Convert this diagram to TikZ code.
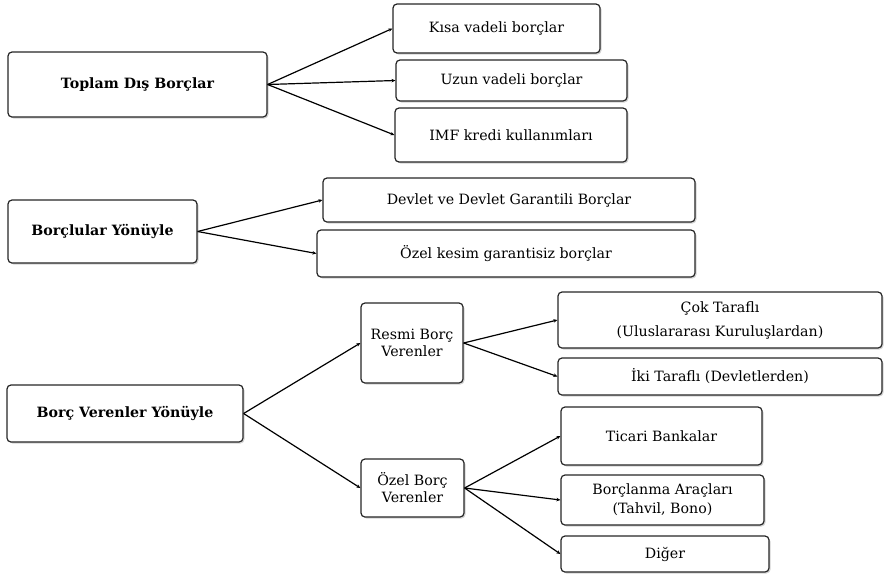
\documentclass[tikz,border=0pt]{standalone}
\usepackage{fontspec}
\setmainfont{DejaVu Serif}
\usetikzlibrary{shadows,arrows.meta}

\begin{document}
\begin{tikzpicture}[x=1pt,y=-1pt,
  kutu/.style={draw=black!85,line width=1.2pt,rounded corners=4pt,fill=white,
    drop shadow={shadow xshift=1.5pt,shadow yshift=-1.5pt,opacity=.35},
    font=\fontsize{14.2}{17}\selectfont,align=center,inner sep=2pt},
  ana/.style={kutu,font=\fontsize{14.2}{17}\selectfont\bfseries},
  bag/.style={line width=1.2pt,-{Stealth[length=4pt,width=3.5pt]}}]
\useasboundingbox (0,0) rectangle (885,576);
% toplam dis borclar
\node[ana,minimum width=259pt,minimum height=65pt] (toplam) at (137.5,84.5) {Toplam Dış Borçlar};
\node[kutu,minimum width=207pt,minimum height=49pt] (kisa) at (496.5,28.5) {Kısa vadeli borçlar};
\node[kutu,minimum width=231pt,minimum height=41pt] (uzun) at (511.5,80.5) {Uzun vadeli borçlar};
\node[kutu,minimum width=232pt,minimum height=54pt] (imf) at (511,135) {IMF kredi kullanımları};
\foreach \k in {kisa,uzun,imf} \draw[bag] (toplam.east) -- (\k.west);
% borclular yonuyle
\node[ana,minimum width=189pt,minimum height=63pt] (borclular) at (102.5,231.5) {Borçlular Yönüyle};
\node[kutu,minimum width=372pt,minimum height=44pt] (devlet) at (509,200) {Devlet ve Devlet Garantili Borçlar};
\node[kutu,minimum width=378pt,minimum height=47pt] (ozelkesim) at (506,253.5) {Özel kesim garantisiz borçlar};
\foreach \k in {devlet,ozelkesim} \draw[bag] (borclular.east) -- (\k.west);
% borc verenler yonuyle
\node[ana,minimum width=236pt,minimum height=57pt] (verenler) at (125,413.5) {Borç Verenler Yönüyle};
\node[kutu,minimum width=102pt,minimum height=80pt] (resmi) at (412,343) {Resmi Borç\\[0pt]Verenler};
\node[kutu,minimum width=103pt,minimum height=58pt] (ozelborc) at (412.5,488) {Özel Borç\\[0pt]Verenler};
\draw[bag] (verenler.east) -- (resmi.west);
\draw[bag] (verenler.east) -- (ozelborc.west);
\node[kutu,minimum width=324pt,minimum height=56pt] (cok) at (720,320) {Çok Taraflı\\[7pt](Uluslararası Kuruluşlardan)};
\node[kutu,minimum width=324pt,minimum height=37pt] (iki) at (720,376.5) {İki Taraflı (Devletlerden)};
\foreach \k in {cok,iki} \draw[bag] (resmi.east) -- (\k.west);
\node[kutu,minimum width=201pt,minimum height=58pt] (ticari) at (661.5,436) {Ticari Bankalar};
\node[kutu,minimum width=203pt,minimum height=50pt] (araclar) at (662.5,500) {Borçlanma Araçları\\[2pt](Tahvil, Bono)};
\node[kutu,minimum width=208pt,minimum height=36pt] (diger) at (665,554) {Diğer};
\foreach \k in {ticari,araclar,diger} \draw[bag] (ozelborc.east) -- (\k.west);
\end{tikzpicture}
\end{document}
